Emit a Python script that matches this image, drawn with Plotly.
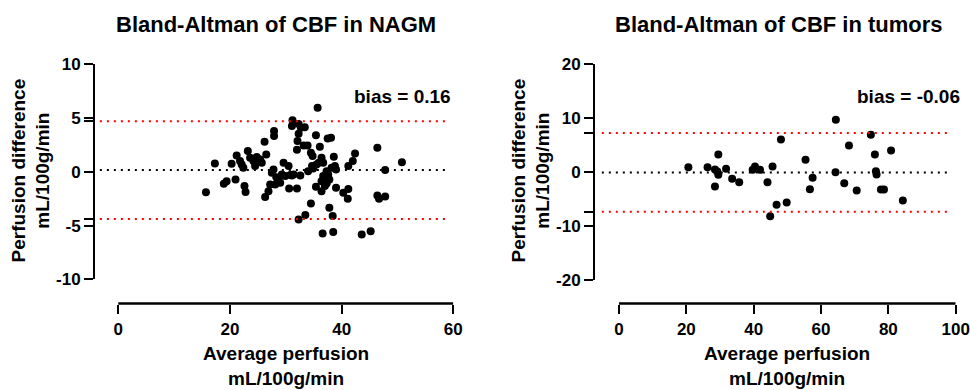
import plotly.graph_objects as go

# ---------------- data ----------------
nagm_avg = [15.7, 17.3, 18.9, 19.4, 21.0, 20.3, 21.2, 21.8, 22.1, 22.4,
            23.2, 23.6, 24.2, 24.8, 25.4, 25.7, 26.5, 24.5, 22.6, 22.8,
            26.2, 27.9, 27.9, 29.6, 30.5, 27.8, 27.5, 28.7, 29.0, 28.1,
            27.2, 26.9, 26.3, 29.3, 29.9, 30.8, 31.4, 28.3,
            31.2, 31.1, 32.3, 32.7, 33.4, 35.7, 32.3, 35.4, 37.5, 38.1,
            32.1, 33.2, 33.9, 36.1, 32.0, 34.5, 34.8, 36.4, 38.6, 42.4,
            42.0, 41.2, 50.8, 47.8, 46.4, 35.5, 34.7, 34.0, 38.8, 37.3,
            37.6, 35.9, 36.7, 38.2, 34.9, 36.7, 36.4, 37.3, 37.0, 35.4,
            36.4, 31.1, 32.6, 32.0, 30.6, 39.0, 41.2, 40.3, 41.1, 46.4,
            46.7, 47.8, 34.5, 37.8, 38.4, 33.5, 32.3, 36.6, 38.5, 43.6,
            45.2, 39.0, 37.8, 37.3]
nagm_diff = [-1.9, 0.78, -1.11, -0.87, -0.71, 0.75, 1.52, 1.0, 0.68, 0.37,
             1.93, 1.3, 1.0, 1.37, 1.15, 0.84, 1.62, 0.53, -1.33, -1.89,
             2.79, 3.79, 3.32, 0.84, 0.53, 0.22, -0.09, -0.71, -1.02, -1.18,
             -1.18, -1.8, -2.35, -0.25, -0.4, -0.3, -0.25, -0.5,
             4.8, 4.25, 4.45, 4.1, 4.15, 5.95, 3.55, 3.41, 3.1, 3.16,
             2.86, 2.45, 2.45, 2.33, 2.05, 1.77, 1.46, 1.3, 1.4, 1.71,
             1.0, 0.53, 0.9, 0.16, 2.23, 0.69, 0.53, 0.06, 0.53, 0.06,
             -0.25, 0.84, 0.84, 0.37, 0.3, -0.4, -0.87, -1.08, -1.33, -1.4,
             -1.8, -0.34, -0.34, -1.55, -1.55, -1.49, -1.6, -1.95, -2.5, -2.2,
             -2.5, -2.3, -2.94, -3.35, -4.12, -4.03, -4.43, -5.73, -5.61, -5.83,
             -5.52, 0.22, -0.71, -1.02]
nagm_bias = 0.16
nagm_loa_upper = 4.70
nagm_loa_lower = -4.38

tum_avg = [20.6, 26.3, 28.5, 29.2, 29.5, 29.5, 31.8, 28.5, 33.6, 35.7,
           39.7, 40.4, 41.9, 44.1, 45.6, 48.1, 46.8, 49.8, 44.9, 55.4,
           57.5, 56.7, 64.4, 64.3, 66.9, 68.3, 70.6, 74.8, 76.0, 76.3,
           76.5, 77.8, 78.7, 80.8, 84.3]
tum_diff = [0.93, 0.93, 0.5, 0.1, -0.5, 3.28, 0.62, -2.66, -1.24, -1.86,
            0.43, 1.05, 0.43, -1.86, 1.05, 6.06, -6.06, -5.63, -8.16, 2.29,
            -1.05, -3.15, 9.71, 0.0, -2.04, 4.95, -3.4, 6.93, 3.28, 0.19,
            -0.43, -3.22, -3.22, 4.02, -5.26]
tum_bias = -0.06
tum_loa_upper = 7.24
tum_loa_lower = -7.36

nagm_xticks = [0, 20, 40, 60]
nagm_yticks = [-10, -5, 0, 5, 10]
tum_xticks = [0, 20, 40, 60, 80, 100]
tum_yticks = [-20, -10, 0, 10, 20]

titles = ["Bland-Altman of CBF in NAGM", "Bland-Altman of CBF in tumors"]
bias_labels = ["bias = 0.16", "bias = -0.06"]
ytitle = "Perfusion difference<br>mL/100g/min"
xtitle = "Average perfusion<br>mL/100g/min"

# ---------------- layout helpers ----------------
W, H = 970, 390
def fx(px):
    return px / W
def fy(py):
    return 1 - py / H

FONT = "Liberation Sans, Arial, sans-serif"
XAXIS_Y = 303.5

fig = go.Figure()

def add_panel(xa, ya, avg, diff, bias, up, lo, line_x):
    fig.add_trace(go.Scatter(x=avg, y=diff, mode="markers", xaxis=xa, yaxis=ya,
                             marker=dict(color="black", size=8),
                             showlegend=False, hoverinfo="x+y"))
    for val, col in [(up, "#ff0000"), (lo, "#ff0000"), (bias, "black")]:
        fig.add_trace(go.Scatter(x=line_x, y=[val, val], mode="lines",
                                 xaxis=xa, yaxis=ya, showlegend=False,
                                 line=dict(color=col, width=2, dash="2px,5px"),
                                 hoverinfo="skip"))

add_panel("x", "y", nagm_avg, nagm_diff, nagm_bias, nagm_loa_upper,
          nagm_loa_lower, [-3.3, 59.1])
add_panel("x2", "y2", tum_avg, tum_diff, tum_bias, tum_loa_upper,
          tum_loa_lower, [-5.1, 98.3])

tickfont = dict(family=FONT, size=17, color="black", weight="bold")

def xaxis_cfg(dom, rng, ticks):
    return dict(domain=dom, range=rng, anchor="free", position=fy(XAXIS_Y),
                showline=False, showgrid=False, zeroline=False,
                ticks="outside", ticklen=9, tickwidth=2, tickcolor="black",
                tickvals=ticks, ticktext=[str(t) for t in ticks],
                tickfont=tickfont, ticklabelstandoff=1, automargin=False)

def yaxis_cfg(dom, rng, ticks, extra, anchor):
    vals = ticks + extra
    text = [str(t) for t in ticks] + ["" for _ in extra]
    return dict(domain=dom, range=rng, anchor=anchor,
                showline=True, linewidth=2, linecolor="black",
                showgrid=False, zeroline=False,
                ticks="outside", ticklen=9, tickwidth=2, tickcolor="black",
                tickvals=vals, ticktext=text, tickfont=tickfont,
                automargin=False)

fig.update_layout(
    width=W, height=H,
    margin=dict(l=0, r=0, t=0, b=0),
    paper_bgcolor="white", plot_bgcolor="white",
    font=dict(family=FONT, color="black"),
    xaxis=xaxis_cfg([fx(95), fx(453.3)], [-4.17, 60], nagm_xticks),
    yaxis=yaxis_cfg([fy(279.3), fy(64.3)], [-10, 10], nagm_yticks,
                    [nagm_loa_upper, nagm_loa_lower], "x"),
    xaxis2=xaxis_cfg([fx(595), fx(955.7)], [-7.13, 100], tum_xticks),
    yaxis2=yaxis_cfg([fy(280), fy(64.3)], [-20, 20], tum_yticks,
                     [tum_loa_upper, tum_loa_lower], "x2"),
)

# x-axis lines spanning only the labelled range (Prism-style offset axes)
for xr, ticks in [("x", nagm_xticks), ("x2", tum_xticks)]:
    fig.add_shape(type="line", xref=xr, yref="paper",
                  x0=ticks[0], x1=ticks[-1], y0=fy(XAXIS_Y), y1=fy(XAXIS_Y),
                  line=dict(color="black", width=2.5), layer="above")

def ann(text, x, y, size, **kw):
    fig.add_annotation(text=text, x=x, y=y, xref="paper", yref="paper",
                       showarrow=False,
                       font=dict(family=FONT, size=size, color="black",
                                 weight="bold"), **kw)

ann(titles[0], fx(276), fy(24), 22, xanchor="center", yanchor="middle")
ann(titles[1], fx(779), fy(25), 22, xanchor="center", yanchor="middle")
ann(bias_labels[0], fx(453), fy(96), 19, xanchor="right", yanchor="middle")
ann(bias_labels[1], fx(962), fy(96), 19, xanchor="right", yanchor="middle")
ann(ytitle, fx(30), fy(170.5), 19, xanchor="center", yanchor="middle",
    textangle=-90)
ann(ytitle, fx(530), fy(170.5), 19, xanchor="center", yanchor="middle",
    textangle=-90)
ann(xtitle, fx(286), fy(366), 19, xanchor="center", yanchor="middle")
ann(xtitle, fx(787), fy(366), 19, xanchor="center", yanchor="middle")

fig.write_html(
    "out.html",
    config={"displayModeBar": False},
    post_script="document.body.style.margin='0px';"
                "document.body.style.overflow='hidden';",
)
